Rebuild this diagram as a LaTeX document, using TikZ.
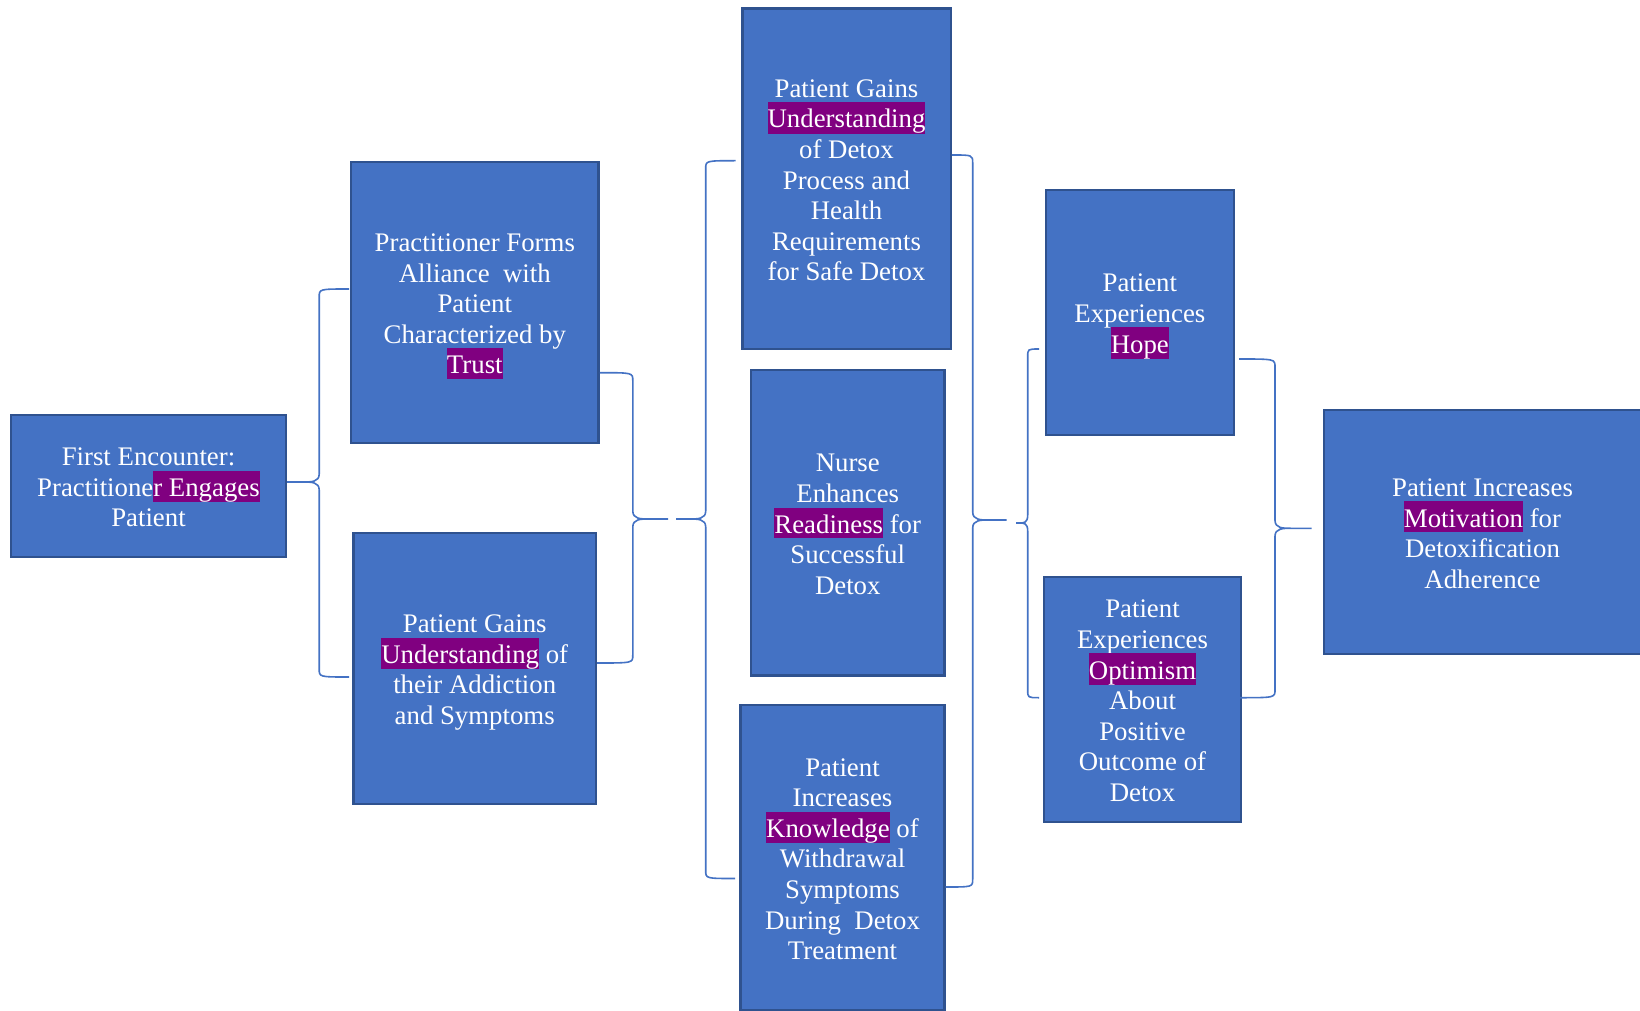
\documentclass[tikz,border=0pt]{standalone}
\usepackage{fontspec}
\setmainfont{Liberation Serif}
\usetikzlibrary{calc}

\definecolor{cardfill}{HTML}{4472C4}
\definecolor{cardline}{HTML}{2F528F}
\definecolor{bracecol}{HTML}{4472C4}
\definecolor{hlpurple}{HTML}{800080}

% text face of the boxes; tall struts must not add extra line skip
\newcommand\cardfont{\fontsize{13.4pt}{15.3pt}\selectfont\setlength{\lineskiplimit}{-20pt}}
% invisible strut giving every line the same line box
\newcommand\linestrut{\rule[-2.5pt]{0pt}{15.3pt}}
% purple highlight behind a key word, one line box high
\newcommand\hlword[1]{{\setlength{\fboxsep}{0pt}\colorbox{hlpurple}{\linestrut #1}}}

% curly brace: #1 top end, #2 tip, #3 bottom end,
% #4 spine offset from the tip (x), #5 size of the bend towards the tip
\newcommand\curlybrace[5]{%
  \draw[brace] let \p1=(#1), \p2=(#2), \p3=(#3) in
    (\p1) .. controls (\x2+#4,\y1) .. (\x2+#4,\y1-4pt)
    -- (\x2+#4,\y2+4pt) .. controls (\x2+#4,\y2) and (\x2+#4+#5/2,\y2) .. (\x2+#4+#5,\y2) -- (\p2)
    (\x2+#4+#5,\y2) .. controls (\x2+#4+#5/2,\y2) and (\x2+#4,\y2) .. (\x2+#4,\y2-4pt)
    -- (\x2+#4,\y3+4pt) .. controls (\x2+#4,\y3) .. (\p3);}

\tikzset{
  card/.style={draw=cardline, fill=cardfill, line width=1.2pt, text=white,
    align=center, inner sep=0pt, font=\cardfont},
  brace/.style={draw=bracecol, line width=0.8pt}
}

\begin{document}
\begin{tikzpicture}[x=0.5pt, y=-0.5pt]
\useasboundingbox[fill=white] (0,0) rectangle (1640,1011);

% stage 1
\node[card, minimum width=137.5pt, minimum height=71pt] (first) at (148.5,486)
  {\linestrut First Encounter:\\Practitione\hlword{r Engages}\\Patient\linestrut};

% stage 2
\node[card, minimum width=123.85pt, minimum height=140.65pt] (alliance) at (474.8,302.4)
  {\linestrut Practitioner Forms\\Alliance\ \ with\\Patient\\Characterized by\\\hlword{Trust}\linestrut};
\node[card, minimum width=121.25pt, minimum height=135.5pt] (addiction) at (474.75,668.5)
  {\linestrut Patient Gains\\\hlword{Understanding} of\\their Addiction\\and Symptoms\linestrut};

% stage 3
\node[card, minimum width=104.2pt, minimum height=170.15pt] (detox) at (846.5,178.85)
  {\linestrut Patient Gains\\\hlword{Understanding}\\of Detox\\Process and\\Health\\Requirements\\for Safe Detox\linestrut};
\node[card, minimum width=96.75pt, minimum height=152.8pt] (nurse) at (847.75,522.8)
  {\linestrut Nurse\\Enhances\\\hlword{Readiness} for\\Successful\\Detox\linestrut};
\node[card, minimum width=102pt, minimum height=152.5pt] (knowledge) at (842.5,857.5)
  {\linestrut Patient\\Increases\\\hlword{Knowledge} of\\Withdrawal\\Symptoms\\During\ \ Detox\\Treatment\linestrut};

% stage 4
\node[card, minimum width=93.85pt, minimum height=122.5pt] (hope) at (1139.85,312.5)
  {\linestrut Patient\\Experiences\\\hlword{Hope}\linestrut};
\node[card, minimum width=98.5pt, minimum height=122.65pt] (optimism) at (1142.5,699.35)
  {\linestrut Patient\\Experiences\\\hlword{Optimism}\\About\\Positive\\Outcome of\\Detox\linestrut};

% stage 5
\node[card, minimum width=158.5pt, minimum height=122pt] (motivation) at (1482.5,532)
  {\linestrut Patient Increases\\\hlword{Motivation} for\\Detoxification\\Adherence\linestrut};

% brace end points
\coordinate (A-top) at (349,289);   \coordinate (A-tip) at (first.east |- 0,482);  \coordinate (A-bot) at (349,677);
\coordinate (B-top) at (alliance.east |- 0,372.7); \coordinate (B-tip) at (668,519); \coordinate (B-bot) at (addiction.east |- 0,663);
\coordinate (C-top) at (735.7,160.7); \coordinate (C-tip) at (676,519); \coordinate (C-bot) at (735,878.5);
\coordinate (D-top) at (detox.east |- 0,155); \coordinate (D-tip) at (1006.7,520); \coordinate (D-bot) at (knowledge.east |- 0,887);
\coordinate (E-top) at (1039,349); \coordinate (E-tip) at (1016,523); \coordinate (E-bot) at (1039,697.7);
\coordinate (F-top) at (1239,359); \coordinate (F-tip) at (1311.7,528.3); \coordinate (F-bot) at (1239,697.7);

% braces linking the stages
\curlybrace{A-top}{A-tip}{A-bot}{16pt}{-8pt}
\curlybrace{B-top}{B-tip}{B-bot}{-17.6pt}{8pt}
\curlybrace{C-top}{C-tip}{C-bot}{14.85pt}{-8pt}
\curlybrace{D-top}{D-tip}{D-bot}{-17pt}{8pt}
\curlybrace{E-top}{E-tip}{E-bot}{5.85pt}{-4pt}
\curlybrace{F-top}{F-tip}{F-bot}{-18.35pt}{8pt}
\end{tikzpicture}
\end{document}
